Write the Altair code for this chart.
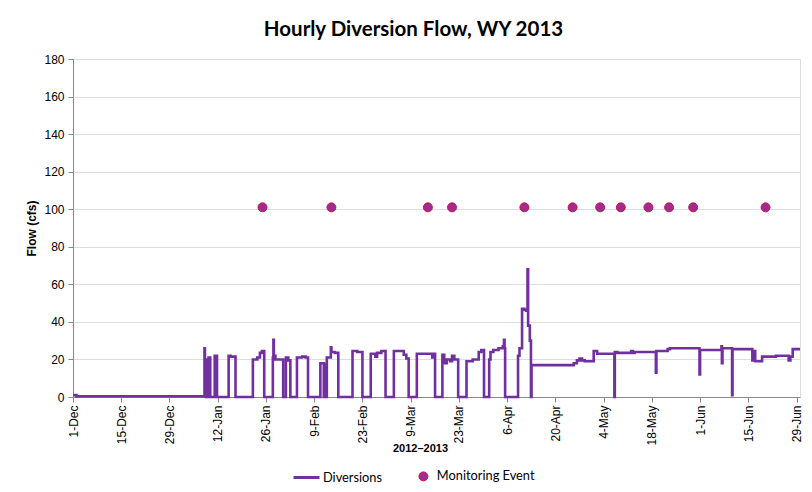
import altair as alt
import pandas as pd

# ---------------- data ----------------
flow_time = [
    "2012-12-01T00:00", "2012-12-02T00:00",
    "2013-01-08T04:00", "2013-01-08T07:00", "2013-01-08T14:00", "2013-01-08T20:00",
    "2013-01-09T02:00", "2013-01-09T08:00", "2013-01-09T20:00",
    "2013-01-11T03:00", "2013-01-11T19:00",
    "2013-01-15T04:00", "2013-01-15T18:00", "2013-01-17T04:00",
    "2013-01-22T05:00", "2013-01-23T12:00", "2013-01-24T06:00", "2013-01-24T20:00", "2013-01-25T12:00",
    "2013-01-28T00:00", "2013-01-28T04:00", "2013-01-28T07:00", "2013-01-28T18:00", "2013-01-31T00:00",
    "2013-01-31T19:00", "2013-02-01T12:00", "2013-02-02T02:00",
    "2013-02-04T00:00", "2013-02-05T12:00", "2013-02-06T12:00", "2013-02-07T05:00",
    "2013-02-10T19:00", "2013-02-11T19:00", "2013-02-12T00:00", "2013-02-12T10:00",
    "2013-02-12T16:00", "2013-02-13T20:00", "2013-02-14T00:00", "2013-02-15T00:00", "2013-02-16T00:00",
    "2013-02-20T03:00", "2013-02-21T12:00", "2013-02-23T00:00",
    "2013-02-25T10:00", "2013-02-26T18:00", "2013-02-27T06:00", "2013-02-28T12:00", "2013-03-01T17:00",
    "2013-03-04T03:00", "2013-03-07T00:00", "2013-03-07T18:00", "2013-03-08T10:00",
    "2013-03-10T19:00", "2013-03-15T06:00", "2013-03-15T12:00", "2013-03-16T02:00",
    "2013-03-18T05:00", "2013-03-18T18:00", "2013-03-19T12:00", "2013-03-20T12:00",
    "2013-03-21T00:00", "2013-03-21T16:00", "2013-03-22T19:00",
    "2013-03-25T05:00", "2013-03-27T00:00", "2013-03-28T18:00", "2013-03-29T12:00", "2013-03-30T07:00",
    "2013-03-31T19:00", "2013-04-01T04:00", "2013-04-02T00:00", "2013-04-03T12:00", "2013-04-04T18:00",
    "2013-04-05T02:00", "2013-04-05T06:00", "2013-04-05T10:00",
    "2013-04-09T04:00", "2013-04-09T14:00", "2013-04-10T08:00", "2013-04-11T00:00", "2013-04-11T12:00",
    "2013-04-11T22:00", "2013-04-12T02:00", "2013-04-12T14:00", "2013-04-12T22:00", "2013-04-13T02:00",
    "2013-04-25T08:00", "2013-04-26T06:00", "2013-04-27T00:00", "2013-04-27T18:00", "2013-04-28T12:00",
    "2013-05-01T03:00", "2013-05-02T03:00", "2013-05-07T03:00", "2013-05-07T06:00", "2013-05-08T00:00",
    "2013-05-12T00:00", "2013-05-12T12:00", "2013-05-13T00:00", "2013-05-19T04:00", "2013-05-19T08:00",
    "2013-05-22T14:00", "2013-05-23T06:00", "2013-05-31T20:00", "2013-06-01T00:00",
    "2013-06-07T05:00", "2013-06-07T08:00", "2013-06-07T12:00", "2013-06-10T07:00", "2013-06-10T10:00",
    "2013-06-16T04:00", "2013-06-16T19:00", "2013-06-17T00:00", "2013-06-19T00:00", "2013-06-23T00:00",
    "2013-06-26T17:00", "2013-06-27T05:00", "2013-06-27T21:00", "2013-06-30T00:00",
]
flow_cfs = [
    1.0, 0.4,
    26, 20, 0, 20,
    0, 21, 0,
    22, 0,
    22, 21.5, 0,
    20, 21, 23.5, 24.5, 0,
    21, 30.5, 22, 20, 0,
    21, 19.5, 0,
    21, 21.5, 21, 0,
    18, 0, 17.5, 0,
    21, 26.5, 24, 23.5, 0,
    24.5, 24, 0,
    23, 21.5, 23.5, 24.5, 0,
    24.5, 22.5, 20.5, 0,
    23, 21, 23, 0,
    22.5, 18, 20, 19,
    22, 20, 0,
    19, 20, 24, 25, 0,
    20, 24, 25, 26, 27,
    30.5, 26, 0,
    22, 26, 47, 46.5, 46,
    68, 38, 30, 0, 17,
    18, 19.5, 20.5, 19.5, 19,
    24.5, 23, 0, 24, 23.5,
    24.5, 23.5, 24, 13, 24.5,
    25.5, 26, 12, 25,
    27, 18, 26, 1, 25.5,
    19.5, 24.5, 19, 21.5, 22,
    19.5, 21.5, 25.5, 25.5,
]

event_dates = [
    "2013-01-25T00:00", "2013-02-14T00:00", "2013-03-14T00:00", "2013-03-21T00:00",
    "2013-04-11T00:00", "2013-04-25T00:00", "2013-05-03T00:00", "2013-05-09T00:00",
    "2013-05-17T00:00", "2013-05-23T00:00", "2013-05-30T00:00", "2013-06-20T00:00",
]
event_flow = [101, 101, 101, 101, 101, 101, 101, 101, 101, 101, 101, 101]

tick_dates = [
    "2012-12-01", "2012-12-15", "2012-12-29", "2013-01-12", "2013-01-26", "2013-02-09",
    "2013-02-23", "2013-03-09", "2013-03-23", "2013-04-06", "2013-04-20", "2013-05-04",
    "2013-05-18", "2013-06-01", "2013-06-15", "2013-06-29",
]
x_domain = ["2012-12-01", "2013-06-30"]
y_ticks = [0, 20, 40, 60, 80, 100, 120, 140, 160, 180]

series_names = ["Diversions", "Monitoring Event"]
title_text = "Hourly Diversion Flow, WY 2013"
x_title = "2012\u20132013"
y_title = "Flow (cfs)"

# ---------------- chart ----------------
def dt(s):
    t = pd.Timestamp(s)
    return alt.DateTime(year=t.year, month=t.month, date=t.day, hours=t.hour, minutes=t.minute)

flows = pd.DataFrame({"time": pd.to_datetime(flow_time), "flow": flow_cfs})
flows["series"] = series_names[0]
events = pd.DataFrame({"time": pd.to_datetime(event_dates), "flow": event_flow})
events["series"] = series_names[1]

FONT = "Lato"
W, H = 727, 338
GRID = "#8c8c8c"
AXIS = "#868686"
LEG_FS = 12.8

x_enc = alt.X(
    "time:T",
    scale=alt.Scale(domain=[dt(d) for d in x_domain], nice=False),
    axis=alt.Axis(
        values=[dt(d) for d in tick_dates], format="%-d-%b", labelAngle=-90,
        title=x_title, grid=False, tickSize=5, labelPadding=3, labelFontSize=12,
        titleX=347, titleY=51, titleAlign="center", titleBaseline="middle",
        titleFontSize=11, titleFontWeight="bold",
    ),
)
y_enc = alt.Y(
    "flow:Q",
    scale=alt.Scale(domain=[0, 180], nice=False),
    axis=alt.Axis(
        values=y_ticks, title=y_title, grid=True, tickSize=5, labelPadding=4,
        labelFontSize=12, titlePadding=5, titleFontSize=12, titleFontWeight="bold",
    ),
)

line = alt.Chart(flows).mark_line(
    interpolate="step-after", strokeWidth=2.6, clip=False
).encode(
    x=x_enc, y=y_enc,
    stroke=alt.Stroke(
        "series:N",
        scale=alt.Scale(domain=[series_names[0]], range=["#7030A0"]),
        legend=alt.Legend(
            title=None, orient="none", legendX=219, legendY=404, padding=0,
            symbolType="stroke", symbolSize=676, symbolStrokeWidth=3, labelOffset=2,
            labelFont=FONT, labelFontSize=LEG_FS, labelColor="#000000",
        ),
    ),
)

points = alt.Chart(events).mark_circle(
    size=80, opacity=1, stroke="#D0103A", strokeWidth=1
).encode(
    x=x_enc, y=y_enc,
    fill=alt.Fill(
        "series:N",
        scale=alt.Scale(domain=[series_names[1]], range=["#A02B93"]),
        legend=alt.Legend(
            title=None, orient="none", legendX=344, legendY=411, padding=0,
            symbolType="circle", symbolSize=80, symbolStrokeColor="#D0103A",
            symbolStrokeWidth=1, symbolOpacity=1, labelOffset=7,
            labelFont=FONT, labelFontSize=LEG_FS, labelColor="#000000",
        ),
    ),
)

chart = alt.layer(line, points).resolve_scale(fill="independent", stroke="independent").properties(
    width=W, height=H,
    autosize=alt.AutoSizeParams(type="none"),
    padding={"left": 65, "top": 51, "right": 4, "bottom": 87},
    title=alt.Title(
        title_text, fontSize=20.5, font=FONT, fontWeight="bold", color="#000000",
        anchor="middle", dx=-23, offset=13,
    ),
).configure_view(
    stroke=AXIS, strokeWidth=1
).configure_axis(
    labelFont=FONT, titleFont=FONT, labelColor="#000000",
    titleColor="#000000", domainColor=AXIS, tickColor=AXIS, gridColor=GRID,
    gridWidth=1, domainWidth=1,
).configure(background="white")

chart.save("out.html", embed_options={"renderer": "svg", "actions": False})
